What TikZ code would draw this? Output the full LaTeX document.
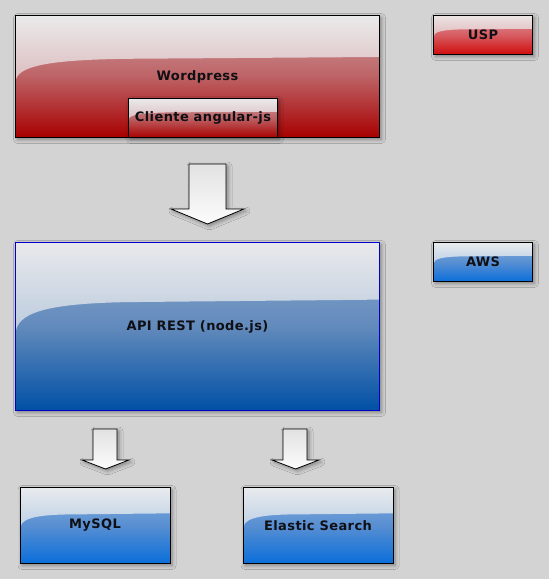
\documentclass[tikz,border=0pt]{standalone}
\usepackage{fontspec}
\newfontfamily\lblfont{DejaVu Sans}[LetterSpace=3]
\usetikzlibrary{shadows.blur,calc}
\definecolor{bg}{RGB}{211,211,211}
% red dark (Wordpress)
\definecolor{rdA}{RGB}{234,234,234}
\definecolor{rdB}{RGB}{208,148,153}
\definecolor{rdC}{RGB}{205,160,163}
\definecolor{rdD}{RGB}{189,98,101}
\definecolor{rdE}{RGB}{168,0,0}
% red bright (USP)
\definecolor{rbA}{RGB}{236,228,228}
\definecolor{rbB}{RGB}{215,145,150}
\definecolor{rbC}{RGB}{222,150,155}
\definecolor{rbD}{RGB}{214,92,97}
\definecolor{rbE}{RGB}{208,12,12}
% blue dark (API)
\definecolor{bdA}{RGB}{233,233,235}
\definecolor{bdB}{RGB}{145,176,210}
\definecolor{bdC}{RGB}{140,170,205}
\definecolor{bdD}{RGB}{98,138,188}
\definecolor{bdE}{RGB}{0,80,165}
\definecolor{bdBorder}{RGB}{0,0,200}
% blue bright (AWS, MySQL, Elastic)
\definecolor{bbA}{RGB}{233,235,238}
\definecolor{bbB}{RGB}{148,182,222}
\definecolor{bbC}{RGB}{135,175,218}
\definecolor{bbD}{RGB}{88,143,210}
\definecolor{bbE}{RGB}{10,110,218}
\definecolor{arrA}{RGB}{226,226,226}
\definecolor{arrB}{RGB}{252,252,252}
\newcommand\glossfill[2]{%
  \shade[top color=#1,bottom color=#2]
    let \p1=(path picture bounding box.north west),
        \p2=(path picture bounding box.south east),
        \n1={\y1-\y2}, \n2={\x2-\x1} in
    (\x1,\y1) -- (\x2,\y1) -- (\x2,{\y1-0.34*\n1})
    -- ({\x1+0.3*\n2},{\y1-0.355*\n1})
    .. controls ({\x1+0.08*\n2},{\y1-0.365*\n1}) and (\x1,{\y1-0.42*\n1}) ..
    (\x1,{\y1-0.55*\n1}) -- cycle;}
\tikzset{
  softshadow/.style={blur shadow={shadow xshift=2pt, shadow yshift=-2pt, shadow blur radius=4pt, shadow opacity=40}},
  gbox/.style n args={6}{draw=#6, line width=1pt, inner sep=0pt,
    top color=#3, bottom color=#5, middle color=#4, softshadow,
    path picture={\glossfill{#1}{#2}},
    font=\lblfont\bfseries\fontsize{13}{15}\selectfont, text={rgb,255:red,15;green,15;blue,20}},
  redD/.style={gbox={rdA}{rdB}{rdC}{rdD}{rdE}{black}},
  redB/.style={gbox={rbA}{rbB}{rbC}{rbD}{rbE}{black}},
  bluD/.style={gbox={bdA}{bdB}{bdC}{bdD}{bdE}{bdBorder}},
  bluB/.style={gbox={bbA}{bbB}{bbC}{bbD}{bbE}{black}},
  blockarrow/.style={draw=black, line width=0.8pt, top color=arrA, bottom color=arrB, softshadow},
}
\begin{document}
\begin{tikzpicture}[x=1pt,y=-1pt]
\fill[bg] (0,0) rectangle (549,579);
\useasboundingbox (0,0) rectangle (549,579);

\node[redD, minimum width=364pt, minimum height=122pt] (wp) at (197.5,76.5) {Wordpress};
\node[redD, minimum width=149pt, minimum height=39pt] (cli) at (203,118) {Cliente angular-js};
\node[redB, minimum width=99pt, minimum height=39pt] (usp) at (483,35) {USP};

\node[bluD, minimum width=364pt, minimum height=168pt] (api) at (197.5,326.5) {API REST (node.js)};
\node[bluB, minimum width=99pt, minimum height=39pt] (aws) at (483,262) {AWS};

\node[bluB, minimum width=150pt, minimum height=76pt] (mysql) at (95,525.5) {MySQL};
\node[bluB, minimum width=150pt, minimum height=76pt] (es) at (318,525.5) {Elastic Search};

% block arrows
\path[blockarrow] (189,164) -- (226,164) -- (226,209) -- (244,209) -- (207.5,224) -- (171,209) -- (189,209) -- cycle;
\path[blockarrow] (93,429) -- (117,429) -- (117,460) -- (129,460) -- (105.5,469) -- (82,460) -- (93,460) -- cycle;
\path[blockarrow] (283,429) -- (307,429) -- (307,460) -- (319,460) -- (295.5,469) -- (272,460) -- (283,460) -- cycle;
\end{tikzpicture}
\end{document}
